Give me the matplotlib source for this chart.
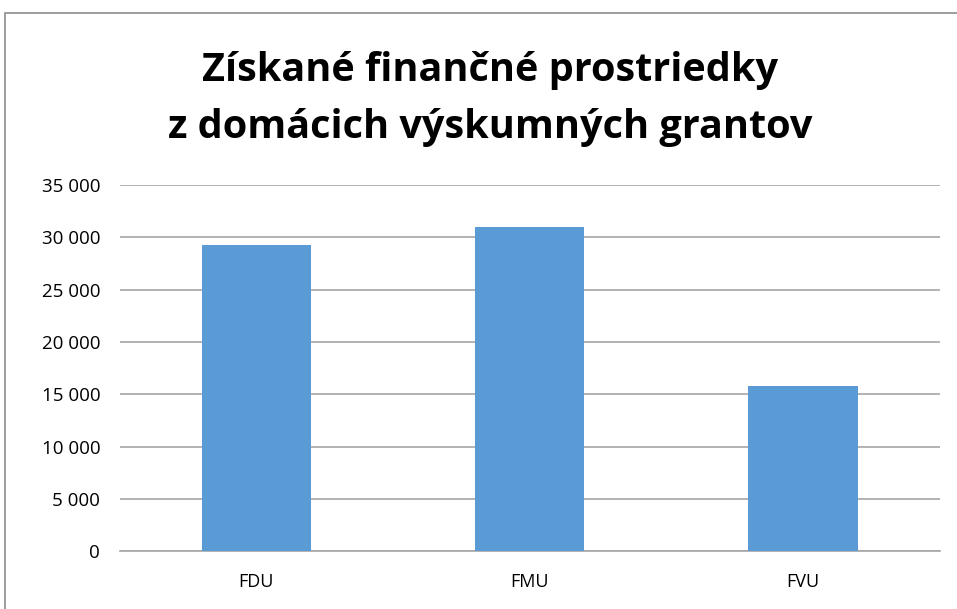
import matplotlib.pyplot as plt
import matplotlib.ticker as mticker
from matplotlib.patches import Rectangle

categories = ['FDU', 'FMU', 'FVU']
values = [29300, 31000, 15800]
yticks = [0, 5000, 10000, 15000, 20000, 25000, 30000, 35000]

plt.rcParams['font.family'] = ['Open Sans', 'DejaVu Sans']

fig = plt.figure(figsize=(9.57, 6.09), dpi=100)
ax = fig.add_axes([0.125, 0.095, 0.857, 0.601])

# ramček okolo grafu
fig.patches.append(Rectangle((5 / 957, -0.1), 1.2, 1 - 13 / 609 + 0.1,
                             transform=fig.transFigure, fill=False,
                             edgecolor='#8c8c8c', linewidth=1.2))

x = range(len(categories))
ax.bar(x, values, width=0.4, color='#5B9BD5', zorder=3)

ax.set_xlim(-0.5, 2.5)
ax.set_ylim(0, 35000)
ax.set_xticks(list(x))
ax.set_xticklabels(categories, fontsize=13)
ax.set_yticks(yticks)
ax.yaxis.set_major_formatter(mticker.FuncFormatter(lambda v, p: f'{int(v):,}'.replace(',', ' ')))
ax.tick_params(axis='y', labelsize=13.5, length=0, pad=14)
ax.tick_params(axis='x', length=0, pad=16)

ax.grid(axis='y', color='#a6a6a6', linewidth=1.2, zorder=0)
for s in ['top', 'right', 'left']:
    ax.spines[s].set_visible(False)
ax.spines['bottom'].set_color('#a6a6a6')
ax.spines['bottom'].set_linewidth(1.2)

fig.text(0.512, 0.838, 'Získané finančné prostriedky\nz domácich výskumných grantov',
         ha='center', va='center', fontsize=28.5, fontweight='bold',
         linespacing=1.6)

fig.savefig('out.png', dpi=100)
